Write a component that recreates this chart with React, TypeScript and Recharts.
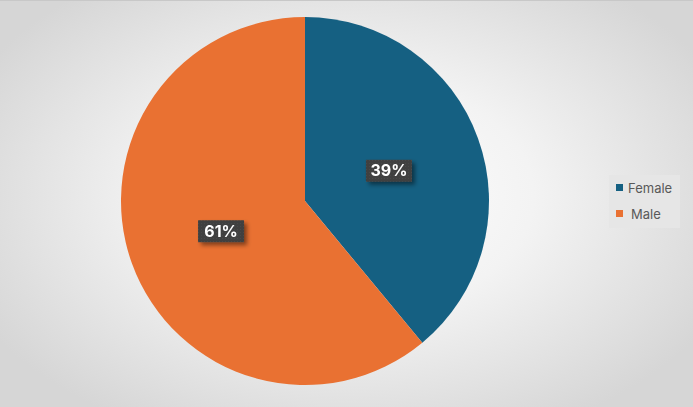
import React from 'react';
import { PieChart, Pie, Cell, Legend } from 'recharts';

const categories = ['Female', 'Male'];
const values = [39, 61];
const colors = ['#156082', '#E97132'];

const chartData = categories.map((name, i) => ({ name, value: values[i] }));
const total = values.reduce((a, b) => a + b, 0);

const RAD = Math.PI / 180;

const renderLabel = (props: any) => {
  const { cx, cy, midAngle, outerRadius, value } = props;
  const r = outerRadius * 0.485;
  const x = cx + r * Math.cos(-midAngle * RAD);
  const y = cy + r * Math.sin(-midAngle * RAD);
  const text = `${Math.round((value / total) * 100)}%`;
  const w = 46;
  const h = 22;
  return (
    <g>
      <rect x={x - w / 2} y={y - h / 2} width={w} height={h} fill="url(#dots)" filter="url(#lblShadow)" />
      <text x={x} y={y + 1} fill="#ffffff" textAnchor="middle" dominantBaseline="middle"
        style={{ fontFamily: 'Inter, "Open Sans", sans-serif', fontSize: 16, fontWeight: 700 }}>
        {text}
      </text>
    </g>
  );
};

const renderLegend = () => (
  <div style={{ background: '#e6e6e6', width: 71, height: 53, boxSizing: 'border-box', padding: '2px 0 0 7px',
    fontFamily: 'Inter, "Open Sans", sans-serif', fontSize: 13, color: '#595959' }}>
    {categories.map((c, i) => (
      <div key={c} style={{ display: 'flex', alignItems: 'center', height: 21, marginBottom: 5 }}>
        <span style={{ width: 7, height: 7, background: colors[i], display: 'inline-block', marginRight: i === 0 ? 5 : 8 }} />
        <span>{c}</span>
      </div>
    ))}
  </div>
);

export default function App() {
  return (
    <div style={{ position: 'fixed', left: 0, top: 0, width: 693, height: 407, overflow: 'hidden',
      background: 'radial-gradient(ellipse 60% 65% at 50% 48%, #ffffff 0%, #f3f3f3 45%, #d6d6d6 100%)',
      borderTop: '1px solid #c8c8c8', boxSizing: 'border-box' }}>
      <PieChart width={693} height={406} margin={{ top: 0, right: 0, bottom: 0, left: 0 }}>
        <defs>
          <pattern id="dots" width="3" height="3" patternUnits="userSpaceOnUse">
            <rect width="3" height="3" fill="#404040" />
            <rect width="1" height="1" fill="#4a4a4a" />
          </pattern>
          <filter id="lblShadow" x="-20%" y="-30%" width="150%" height="180%">
            <feDropShadow dx="3" dy="3" stdDeviation="2" floodColor="#000" floodOpacity="0.45" />
          </filter>
        </defs>
        <Pie data={chartData} dataKey="value" nameKey="name" cx={305} cy={200} outerRadius={184}
          startAngle={90} endAngle={-270} stroke="none" isAnimationActive={false}
          label={renderLabel} labelLine={false}>
          {chartData.map((d, i) => <Cell key={d.name} fill={colors[i]} />)}
        </Pie>
        <Legend content={renderLegend} layout="vertical" verticalAlign="top" align="right"
          wrapperStyle={{ left: 609, top: 174, width: 71 }} />
      </PieChart>
    </div>
  );
}
